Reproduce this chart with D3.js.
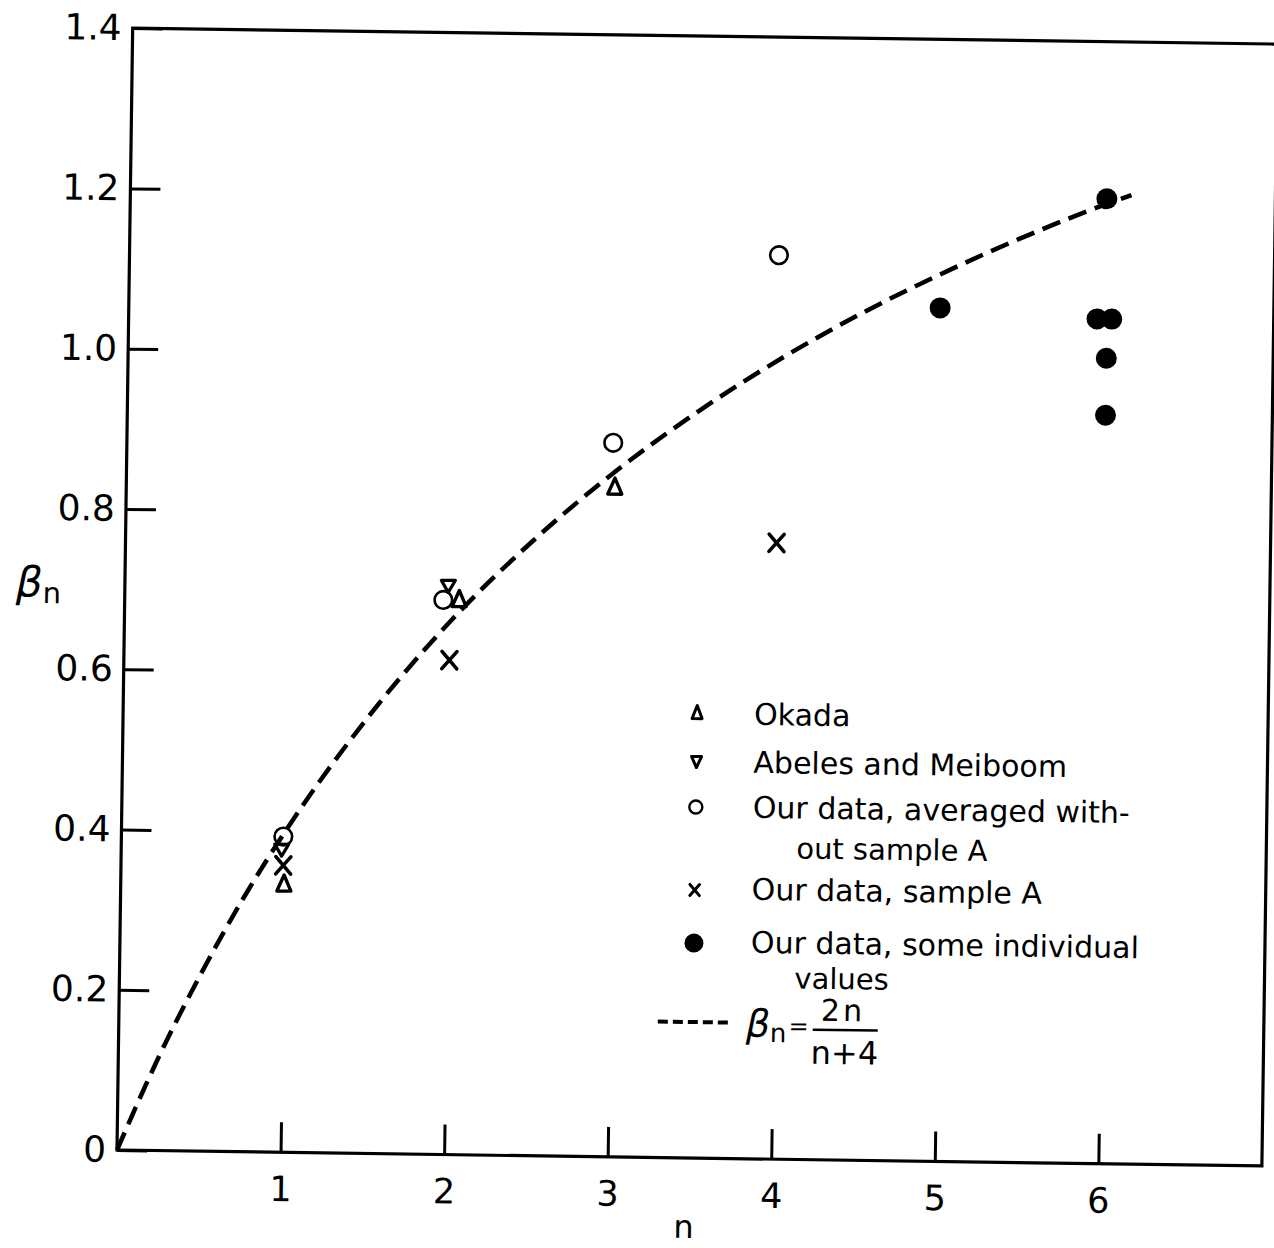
<!DOCTYPE html>
<html>
<head>
<meta charset="utf-8">
<script src="https://cdn.jsdelivr.net/npm/d3@7"></script>
<style>
  body { margin: 0; background: #fff; }
  svg { display: block; }
  text { font-family: "DejaVu Sans", sans-serif; fill: #000; }
</style>
</head>
<body>
<script>
var width = 1274,
    height = 1248;

// data (n, beta_n)
var okadaN = [0.998, 2.045, 2.987],
    okadaB = [0.336, 0.694, 0.837];
var abelesN = [0.981, 1.977],
    abelesB = [0.377, 0.709];
var avgN = [0.990, 1.948, 2.973, 3.970],
    avgB = [0.394, 0.692, 0.891, 1.128];
var sampleAN = [0.992, 1.990, 3.980],
    sampleAB = [0.358, 0.617, 0.769];
var indivN = [4.96, 5.97, 5.92, 6.01, 5.98, 5.98],
    indivB = [1.065, 1.204, 1.054, 1.054, 1.005, 0.934];
// dashed theory curve beta_n = 2n/(n+4)
var curveN = [0, 0.25, 0.5, 0.75, 1, 1.5, 2, 2.5, 3, 3.5, 4, 4.5, 5, 5.5, 6, 6.12],
    curveB = [0, 0.118, 0.222, 0.316, 0.4, 0.545, 0.667, 0.769, 0.857, 0.933, 1.0, 1.059, 1.111, 1.158, 1.2, 1.209];

var xTicks = [1, 2, 3, 4, 5, 6],
    yTicks = [0, 0.2, 0.4, 0.6, 0.8, 1.0, 1.2, 1.4],
    yTickLabels = ["0", "0.2", "0.4", "0.6", "0.8", "1.0", "1.2", "1.4"];

var legendLabels = [
  ["Okada"],
  ["Abeles and Meiboom"],
  ["Our data, averaged with-", "out sample A"],
  ["Our data, sample A"],
  ["Our data, some individual", "values"]
];

var plotLeft = 117, plotRight = 1262, plotTop = 28, plotBottom = 1150;

var x = d3.scaleLinear().domain([0, 7]).range([plotLeft, plotRight]);
var y = d3.scaleLinear().domain([0, 1.4]).range([plotBottom, plotTop]);

var svg = d3.select("body").append("svg")
    .attr("width", width)
    .attr("height", height);

svg.append("rect").attr("width", width).attr("height", height).attr("fill", "#fff");

// the scanned figure is slightly rotated
var g = svg.append("g")
    .attr("transform", "rotate(0.8," + plotLeft + "," + plotBottom + ")");

// frame
g.append("rect")
    .attr("x", plotLeft).attr("y", plotTop)
    .attr("width", plotRight - plotLeft).attr("height", plotBottom - plotTop)
    .attr("fill", "none").attr("stroke", "#000").attr("stroke-width", 3.2);

// x axis
var xAxis = d3.axisBottom(x)
    .tickValues(xTicks)
    .tickSizeInner(-30)
    .tickSizeOuter(0)
    .tickPadding(24)
    .tickFormat(d3.format("d"));
var gx = g.append("g").attr("transform", "translate(0," + plotBottom + ")").call(xAxis);
gx.select(".domain").remove();
gx.selectAll(".tick line").attr("stroke", "#000").attr("stroke-width", 3);
gx.selectAll(".tick text").attr("font-size", 35).attr("font-family", "DejaVu Sans").attr("fill", "#000");

// y axis
var yAxis = d3.axisLeft(y)
    .tickValues(yTicks)
    .tickSizeInner(-30)
    .tickSizeOuter(0)
    .tickPadding(11)
    .tickFormat(function(d, i) { return yTickLabels[i]; });
var gy = g.append("g").attr("transform", "translate(" + plotLeft + ",0)").call(yAxis);
gy.select(".domain").remove();
gy.selectAll(".tick line").attr("stroke", "#000").attr("stroke-width", 3);
gy.selectAll(".tick text").attr("font-size", 36).attr("font-family", "DejaVu Sans").attr("fill", "#000");

// axis titles
g.append("text")
    .attr("x", x(3.47)).attr("y", plotBottom + 80)
    .attr("text-anchor", "middle")
    .attr("font-size", 32)
    .text("n");

var yt = g.append("text")
    .attr("x", 8).attr("y", 598)
    .attr("font-size", 42);
yt.append("tspan").attr("font-style", "italic").text("β");
yt.append("tspan").attr("font-size", 29).attr("dy", 6).text("n");

// dashed curve
var line = d3.line()
    .x(function(d, i) { return x(curveN[i]); })
    .y(function(d, i) { return y(curveB[i]); })
    .curve(d3.curveMonotoneX);

g.append("path")
    .attr("d", line(curveN))
    .attr("fill", "none")
    .attr("stroke", "#000")
    .attr("stroke-width", 4.5)
    .attr("stroke-dasharray", "19,9");

// marker helpers
function triUp(w, h) { return "M0," + (-h / 2) + "L" + (w / 2) + "," + (h / 2) + "L" + (-w / 2) + "," + (h / 2) + "Z"; }
function triDown(w, h) { return "M0," + (h / 2) + "L" + (w / 2) + "," + (-h / 2) + "L" + (-w / 2) + "," + (-h / 2) + "Z"; }
function cross(s) { return "M" + (-s) + "," + (-s * 1.15) + "L" + s + "," + (s * 1.15) + "M" + s + "," + (-s * 1.15) + "L" + (-s) + "," + (s * 1.15); }

// Okada
g.selectAll(".okada")
    .data(okadaN)
    .enter().append("path")
    .attr("class", "okada")
    .attr("transform", function(d, i) { return "translate(" + x(d) + "," + y(okadaB[i]) + ")"; })
    .attr("d", triUp(14, 16))
    .attr("fill", "none").attr("stroke", "#000").attr("stroke-width", 3.4).attr("stroke-linejoin", "round");

// Abeles and Meiboom
g.selectAll(".abeles")
    .data(abelesN)
    .enter().append("path")
    .attr("class", "abeles")
    .attr("transform", function(d, i) { return "translate(" + x(d) + "," + y(abelesB[i]) + ")"; })
    .attr("d", triDown(14, 12))
    .attr("fill", "none").attr("stroke", "#000").attr("stroke-width", 3.2).attr("stroke-linejoin", "round");

// averaged data
g.selectAll(".avg")
    .data(avgN)
    .enter().append("circle")
    .attr("class", "avg")
    .attr("cx", function(d) { return x(d); })
    .attr("cy", function(d, i) { return y(avgB[i]); })
    .attr("r", 8.8)
    .attr("fill", "none").attr("stroke", "#000").attr("stroke-width", 2.6);

// sample A
g.selectAll(".sampleA")
    .data(sampleAN)
    .enter().append("path")
    .attr("class", "sampleA")
    .attr("transform", function(d, i) { return "translate(" + x(d) + "," + y(sampleAB[i]) + ")"; })
    .attr("d", cross(7.5))
    .attr("fill", "none").attr("stroke", "#000").attr("stroke-width", 3.6).attr("stroke-linecap", "round");

// individual values
g.selectAll(".indiv")
    .data(indivN)
    .enter().append("circle")
    .attr("class", "indiv")
    .attr("cx", function(d) { return x(d); })
    .attr("cy", function(d, i) { return y(indivB[i]); })
    .attr("r", 10.5)
    .attr("fill", "#000");

// legend
var legX = 691, legTextX = 748, legContX = 792;
var rowY = [716, 764, 809, 891, 944];
var contY = [null, null, 849, null, 979];
var lg = g.append("g");

lg.append("path").attr("transform", "translate(" + legX + "," + (rowY[0] - 12) + ")")
    .attr("d", triUp(10, 13)).attr("fill", "none").attr("stroke", "#000").attr("stroke-width", 3).attr("stroke-linejoin", "round");
lg.append("path").attr("transform", "translate(" + legX + "," + (rowY[1] - 10) + ")")
    .attr("d", triDown(10, 11)).attr("fill", "none").attr("stroke", "#000").attr("stroke-width", 3).attr("stroke-linejoin", "round");
lg.append("circle").attr("cx", legX).attr("cy", rowY[2] - 10).attr("r", 6.5)
    .attr("fill", "none").attr("stroke", "#000").attr("stroke-width", 2.4);
lg.append("path").attr("transform", "translate(" + legX + "," + (rowY[3] - 9) + ")")
    .attr("d", cross(4.8)).attr("fill", "none").attr("stroke", "#000").attr("stroke-width", 3).attr("stroke-linecap", "round");
lg.append("circle").attr("cx", legX).attr("cy", rowY[4] - 9).attr("r", 9.5).attr("fill", "#000");

legendLabels.forEach(function(lab, i) {
  lg.append("text").attr("x", legTextX).attr("y", rowY[i]).attr("font-size", 30).text(lab[0]);
  if (lab[1]) {
    lg.append("text").attr("x", legContX).attr("y", contY[i]).attr("font-size", 29).text(lab[1]);
  }
});

// formula entry
lg.append("line")
    .attr("x1", 656).attr("x2", 727).attr("y1", 1014).attr("y2", 1014)
    .attr("stroke", "#000").attr("stroke-width", 4).attr("stroke-dasharray", "10,5");
var ft = lg.append("text").attr("x", 744).attr("y", 1028).attr("font-size", 38);
ft.append("tspan").attr("font-style", "italic").text("β");
ft.append("tspan").attr("font-size", 26).attr("dy", 5).text("n");
lg.append("text").attr("x", 797).attr("y", 1025).attr("font-size", 24).attr("text-anchor", "middle").text("=");
lg.append("text").attr("x", 841).attr("y", 1011).attr("font-size", 30).attr("text-anchor", "middle").attr("letter-spacing", 3).text("2n");
lg.append("line").attr("x1", 811).attr("x2", 876).attr("y1", 1020).attr("y2", 1020)
    .attr("stroke", "#000").attr("stroke-width", 2.5);
lg.append("text").attr("x", 843).attr("y", 1054).attr("font-size", 32).attr("text-anchor", "middle").text("n+4");
</script>
</body>
</html>
